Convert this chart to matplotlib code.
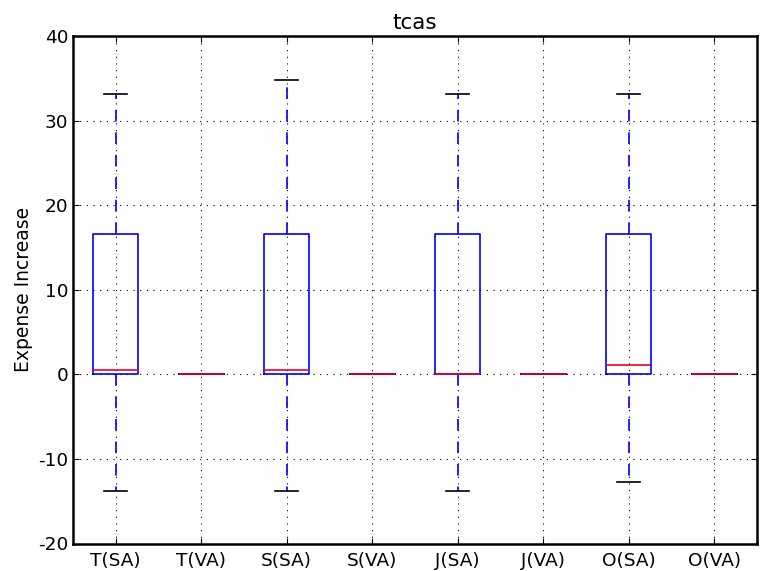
import matplotlib
matplotlib.use("Agg")
import matplotlib.pyplot as plt

labels = ["T(SA)", "T(VA)", "S(SA)", "S(VA)", "J(SA)", "J(VA)", "O(SA)", "O(VA)"]
whislo = [-13.8, 0.0, -13.8, 0.0, -13.8, 0.0, -12.7, 0.0]
q1 = [0.0, 0.0, 0.0, 0.0, 0.0, 0.0, 0.0, 0.0]
med = [0.55, 0.0, 0.55, 0.0, 0.0, 0.0, 1.1, 0.0]
q3 = [16.6, 0.0, 16.6, 0.0, 16.6, 0.0, 16.6, 0.0]
whishi = [33.1, 0.0, 34.8, 0.0, 33.1, 0.0, 33.1, 0.0]

stats = []
for i in range(len(labels)):
    stats.append(dict(label=labels[i], whislo=whislo[i], q1=q1[i], med=med[i],
                      q3=q3[i], whishi=whishi[i], fliers=[]))

fig = plt.figure(figsize=(7.79, 5.71), dpi=100)
ax = fig.add_axes([73 / 779, 1 - 543.5 / 571, 684 / 779, 507.5 / 571])

ax.bxp(stats, widths=0.53, showfliers=False,
       boxprops=dict(color="blue", linewidth=1.2),
       whiskerprops=dict(color="blue", linestyle=(0, (7, 6.5)), linewidth=1.2),
       capprops=dict(color="black", linewidth=1.2),
       medianprops=dict(color="#e8002a", linewidth=1.2))

ax.set_xlim(0.5, 8.5)
ax.set_ylim(-20, 40)
ax.set_yticks([-20, -10, 0, 10, 20, 30, 40])
ax.set_yticklabels(["-20", "-10", "0", "10", "20", "30", "40"])
ax.grid(True, color="black", linestyle=(0, (1, 5)), linewidth=0.8)
ax.tick_params(direction="in", length=4, top=True, right=True, labelsize=13.3)
ax.tick_params(axis="x", pad=6)
for s in ax.spines.values():
    s.set_linewidth(1.8)

ax.set_title("tcas", fontsize=15.5, pad=5)
ax.set_ylabel("Expense Increase", fontsize=13.5)
ax.yaxis.set_label_coords(-40 / 684, 0.5)

fig.savefig("out.png", dpi=100)
